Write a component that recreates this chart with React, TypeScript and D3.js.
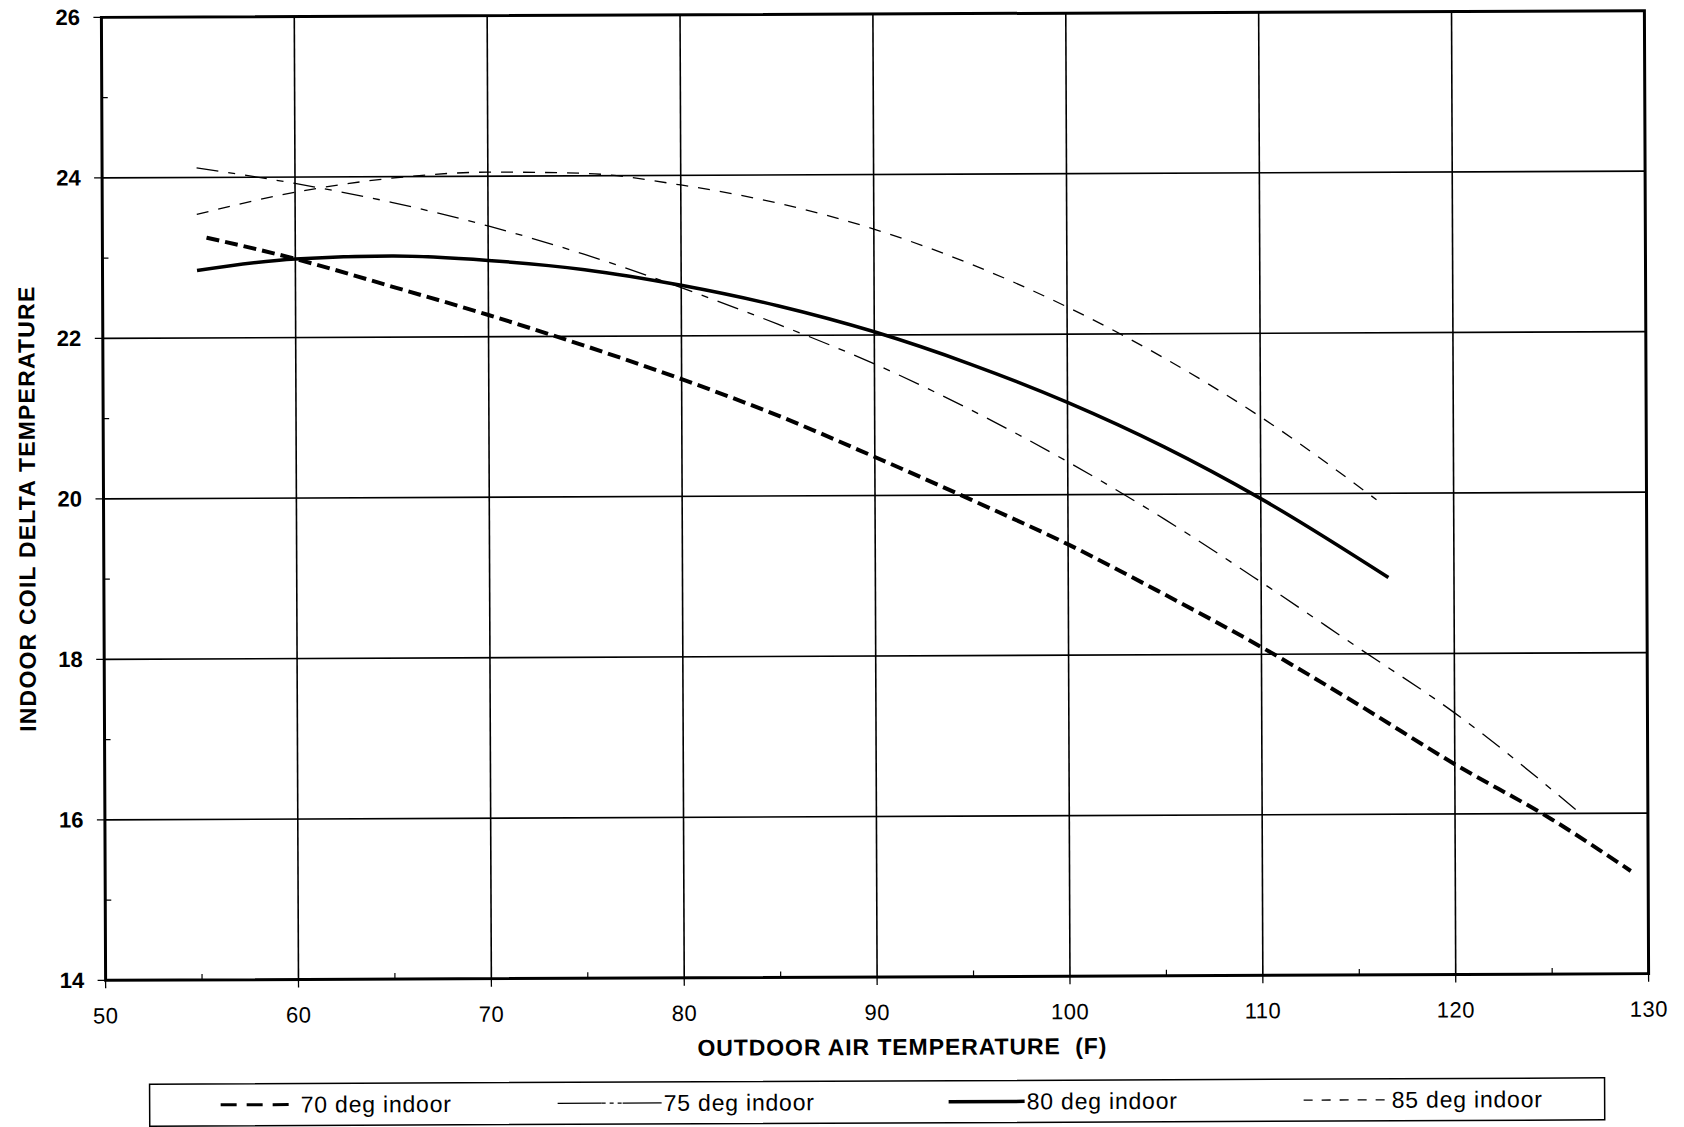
import React from "react";
import * as d3 from "d3";

const xTicks = [50, 60, 70, 80, 90, 100, 110, 120, 130];
const yTicks = [14, 16, 18, 20, 22, 24, 26];
const xMinor = [55, 65, 75, 85, 95, 105, 115, 125];
const yMinor = [15, 17, 19, 21, 23, 25];

const s70x = [55.4, 60, 65, 70, 75, 80, 85, 90, 95, 100, 105, 110, 115, 120, 125, 129.1];
const s70y = [23.25, 22.98, 22.63, 22.27, 21.88, 21.46, 21.0, 20.48, 19.94, 19.38, 18.75, 18.09, 17.37, 16.62, 15.93, 15.28];

const s75x = [54.9, 60, 65, 70, 75, 80, 85, 90, 95, 100, 105, 110, 115, 120, 126.5];
const s75y = [24.12, 23.92, 23.68, 23.38, 23.02, 22.6, 22.14, 21.64, 21.06, 20.41, 19.69, 18.9, 18.08, 17.26, 16.0];

const s80x = [54.9, 60, 65, 70, 75, 80, 85, 90, 95, 100, 105, 110, 116.6];
const s80y = [22.84, 22.98, 23.01, 22.95, 22.83, 22.63, 22.37, 22.04, 21.63, 21.15, 20.59, 19.94, 18.95];

const s85x = [54.9, 60, 65, 70, 75, 80, 85, 90, 95, 100, 105, 110, 116.0];
const s85y = [23.54, 23.81, 23.98, 24.05, 24.03, 23.88, 23.65, 23.32, 22.88, 22.34, 21.7, 20.96, 19.92];

const seriesNames = ["70 deg indoor", "75 deg indoor", "80 deg indoor", "85 deg indoor"];

const FONT = "'Liberation Sans', Arial, Helvetica, sans-serif";

export default function App() {
  const W = 1684;
  const H = 1127;
  const x = d3.scaleLinear().domain([50, 130]).range([103.5, 1646.5]);
  const y = d3.scaleLinear().domain([14, 26]).range([977, 14]);

  const line = d3
    .line<[number, number]>()
    .x((d) => x(d[0]))
    .y((d) => y(d[1]))
    .curve(d3.curveMonotoneX);

  const zip = (xs: number[], ys: number[]) => xs.map((v, i) => [v, ys[i]] as [number, number]);

  const series = [
    { name: seriesNames[0], pts: zip(s70x, s70y), width: 4, dash: "13 6" },
    { name: seriesNames[1], pts: zip(s75x, s75y), width: 1.3, dash: "22 10 7 10" },
    { name: seriesNames[2], pts: zip(s80x, s80y), width: 3.5, dash: "" },
    { name: seriesNames[3], pts: zip(s85x, s85y), width: 1.3, dash: "12 10" },
  ];

  const [x0, x1] = x.range();
  const [y0, y1] = y.range();

  return (
    <svg
      width={W}
      height={H}
      style={{ position: "absolute", left: 0, top: 0, background: "#fff" }}
      fontFamily={FONT}
    >
      <rect x={0} y={0} width={W} height={H} fill="#fff" />
      <g transform="rotate(-0.25 875 495)">
        {/* grid */}
        {xTicks.slice(1, -1).map((t) => (
          <line key={"gx" + t} x1={x(t)} x2={x(t)} y1={y1} y2={y0} stroke="#000" strokeWidth={1.6} />
        ))}
        {yTicks.slice(1, -1).map((t) => (
          <line key={"gy" + t} x1={x0} x2={x1} y1={y(t)} y2={y(t)} stroke="#000" strokeWidth={1.6} />
        ))}
        {/* minor ticks */}
        {xMinor.map((t) => (
          <line key={"mx" + t} x1={x(t)} x2={x(t)} y1={y0} y2={y0 - 6} stroke="#000" strokeWidth={1.2} />
        ))}
        {yMinor.map((t) => (
          <line key={"my" + t} x1={x0} x2={x0 + 6} y1={y(t)} y2={y(t)} stroke="#000" strokeWidth={1.2} />
        ))}
        {/* major outer ticks */}
        {xTicks.map((t) => (
          <line key={"tx" + t} x1={x(t)} x2={x(t)} y1={y0} y2={y0 + 8} stroke="#000" strokeWidth={1.3} />
        ))}
        {yTicks.map((t) => (
          <line key={"ty" + t} x1={x0 - 8} x2={x0} y1={y(t)} y2={y(t)} stroke="#000" strokeWidth={1.3} />
        ))}
        {/* frame */}
        <rect x={x0} y={y1} width={x1 - x0} height={y0 - y1} fill="none" stroke="#000" strokeWidth={3} />

        {/* series */}
        {series.map((s) => (
          <path
            key={s.name}
            d={line(s.pts) || ""}
            fill="none"
            stroke="#000"
            strokeWidth={s.width}
            strokeDasharray={s.dash || undefined}
          />
        ))}

        {/* tick labels */}
        {xTicks.map((t) => (
          <text key={"lx" + t} x={x(t)} y={1020} textAnchor="middle" fontSize={22} letterSpacing={0.5}>
            {t}
          </text>
        ))}
        {yTicks.map((t) => (
          <text
            key={"ly" + t}
            x={82}
            y={y(t)}
            textAnchor="end"
            dominantBaseline="central"
            fontSize={22}
            fontWeight="bold"
          >
            {t}
          </text>
        ))}

        {/* axis titles */}
        <text
          x={900}
          y={1055}
          textAnchor="middle"
          fontSize={23}
          fontWeight="bold"
          letterSpacing={0.9}
          style={{ whiteSpace: "pre" }}
        >
          {"OUTDOOR AIR TEMPERATURE  (F)"}
        </text>
        <text
          transform={`translate(35, ${505}) rotate(-90)`}
          textAnchor="middle"
          fontSize={23}
          fontWeight="bold"
          letterSpacing={1.2}
        >
          INDOOR COIL DELTA TEMPERATURE
        </text>

        {/* legend */}
        <rect x={147} y={1081} width={1455} height={42} fill="#fff" stroke="#000" strokeWidth={1.5} />
        <line x1={218} x2={286} y1={1102} y2={1102} stroke="#000" strokeWidth={3} strokeDasharray="16 10" />
        <text x={298} y={1110} fontSize={23} letterSpacing={0.8}>{seriesNames[0]}</text>

        <line x1={555} x2={599} y1={1102} y2={1102} stroke="#000" strokeWidth={1.3} />
        <line x1={599} x2={620} y1={1102} y2={1102} stroke="#000" strokeWidth={1.3} strokeDasharray="4 4" />
        <line x1={620} x2={659} y1={1102} y2={1102} stroke="#000" strokeWidth={1.3} />
        <text x={661} y={1110} fontSize={23} letterSpacing={0.8}>{seriesNames[1]}</text>

        <line x1={946} x2={1022} y1={1102} y2={1102} stroke="#000" strokeWidth={3.5} />
        <text x={1024} y={1110} fontSize={23} letterSpacing={0.8}>{seriesNames[2]}</text>

        <line x1={1301} x2={1382} y1={1102} y2={1102} stroke="#000" strokeWidth={1.3} strokeDasharray="9 9" />
        <text x={1389} y={1110} fontSize={23} letterSpacing={0.8}>{seriesNames[3]}</text>
      </g>
    </svg>
  );
}
